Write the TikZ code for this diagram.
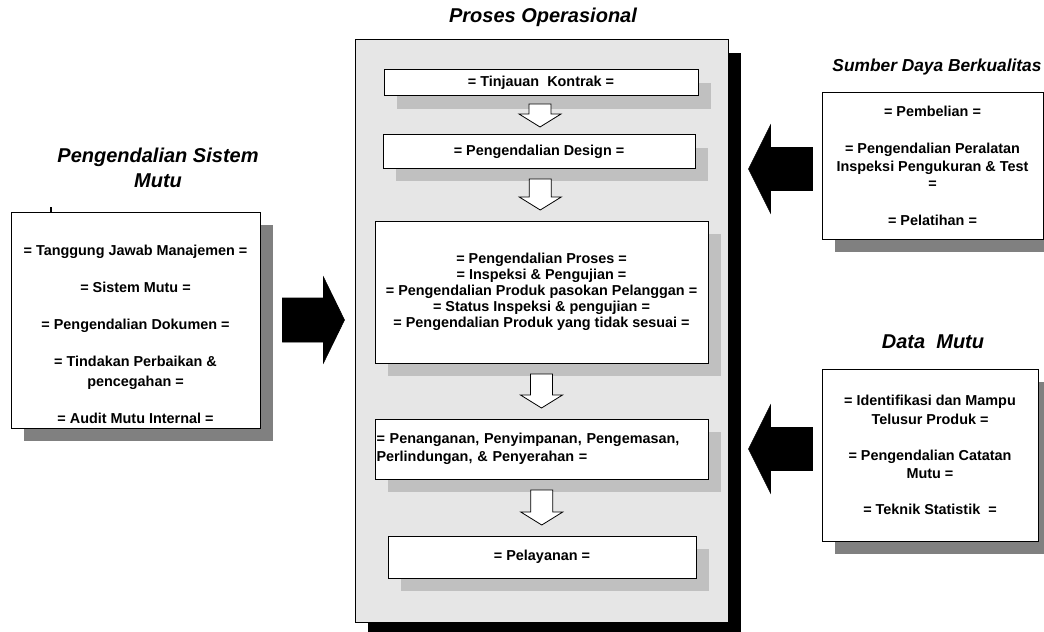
\documentclass[tikz,border=0pt]{standalone}
\usepackage{fontspec}
\setmainfont{Liberation Sans}
\usetikzlibrary{calc,shadows}

\definecolor{panelgray}{HTML}{E6E6E6}
\definecolor{lightshade}{HTML}{C0C0C0}
\definecolor{darkshade}{HTML}{808080}

% hollow arrow between two stacked boxes, #3 = half length
\newcommand\hollowarrow[3]{%
  \coordinate (ha) at ($(#1.south)!.5!(#2.north)$);
  \draw[hollow] (ha) ++(-11,-#3) -- ++(22,0) -- ++(0,2*#3-13) -- ++(10,0)
    -- ++(-21,13) -- ++(-21,-13) -- ++(10,0) -- cycle;}

\begin{document}
\begin{tikzpicture}[x=0.75pt,y=-0.75pt,
    box/.style={draw,fill=white,line width=0.75pt,inner sep=1pt,align=center,
                font=\bfseries\fontsize{10.8}{13.5}\selectfont},
    sidebox/.style={box,drop shadow={shadow xshift=9.75pt,shadow yshift=-9.75pt,fill=darkshade,opacity=1}},
    stepbox/.style={box,drop shadow={shadow xshift=9.75pt,shadow yshift=-9.75pt,fill=lightshade,opacity=1}},
    title/.style={align=center,font=\bfseries\itshape\fontsize{15}{18.75}\selectfont},
    blockarrow/.style={fill=black,draw=black},
    hollow/.style={draw=black,fill=white,line width=0.6pt}]
  \useasboundingbox (0,0) rectangle (1044,631);

  % left column
  \node[title] (lefttitle) at (158,167.5) {Pengendalian Sistem\\ Mutu};
  \node[sidebox, minimum width=186.75pt, minimum height=162pt] (lbox) at (135.5,320) {};
  \node[align=center, font=\bfseries\fontsize{10.8}{15}\selectfont] (lboxtext) at ($(lbox)+(0,14)$)
    {= Tanggung Jawab Manajemen =\\[12.75pt] = Sistem Mutu =\\[12.75pt] = Pengendalian Dokumen =\\[12.75pt]
     = Tindakan Perbaikan \&\\ pencegahan =\\[12.75pt] = Audit Mutu Internal =};
  \draw[line width=1pt] ($(lbox.north west)+(40.5,0)$) -- ++(0,-4.5);

  % middle column
  \node[title] (opstitle) at (543,17) {Proses Operasional};
  \node[draw, fill=panelgray, line width=0.75pt, minimum width=279.75pt, minimum height=436.5pt,
        drop shadow={shadow xshift=9.75pt,shadow yshift=-9.75pt,fill=black,opacity=1}] (ops) at (541.5,331) {};
  \node[stepbox, minimum width=235.5pt, minimum height=19.5pt] (tk) at (541,83) {= Tinjauan\ \ Kontrak =};
  \node[stepbox, minimum width=234pt, minimum height=24.75pt] (pd) at (539,151.5) {= Pengendalian Design =};
  \node[stepbox, minimum width=249.75pt, minimum height=106.5pt, font=\bfseries\fontsize{10.8}{12}\selectfont] (proc) at (541.5,292)
    {= Pengendalian Proses =\\ = Inspeksi \& Pengujian =\\ = Pengendalian Produk pasokan Pelanggan =\\
     = Status Inspeksi \& pengujian =\\ = Pengendalian Produk yang tidak sesuai =};
  \node[stepbox, minimum width=249.75pt, minimum height=45pt, align=left, text width=247.5pt] (pen) at (541.5,449)
    {= Penanganan, Penyimpanan, Pengemasan,\\ Perlindungan, \& Penyerahan =};
  \node[stepbox, minimum width=231pt, minimum height=31.5pt] (pel) at (542,557) {= Pelayanan =};

  \hollowarrow{tk}{pd}{11.5}
  \hollowarrow{pd}{proc}{15.5}
  \hollowarrow{proc}{pen}{17}
  \hollowarrow{pen}{pel}{17.5}

  % right column
  \node[title, font=\bfseries\itshape\fontsize{13}{16}\selectfont] (sdbtitle) at (937,67) {Sumber Daya Berkualitas};
  \node[sidebox, minimum width=165.75pt, minimum height=109.5pt, font=\bfseries\fontsize{10.8}{13.1}\selectfont] (sdb) at (932.5,166)
    {= Pembelian =\\[14.6pt] = Pengendalian Peralatan\\ Inspeksi Pengukuran \& Test\\ =\\[14.6pt] = Pelatihan =};
  \node[title] (dmtitle) at (933,342) {Data\ \ Mutu};
  \node[sidebox, minimum width=162pt, minimum height=129pt, font=\bfseries\fontsize{10.8}{13.9}\selectfont] (dm) at (930,455)
    {= Identifikasi dan Mampu\\ Telusur Produk =\\[13.1pt] = Pengendalian Catatan\\ Mutu =\\[13.1pt] = Teknik Statistik\ \ =};

  % big arrows
  \coordinate (la) at ($(lbox.east)+(22,0)$);
  \draw[blockarrow] (la) ++(0,-22) -- ++(41,0) -- ++(0,-21) -- ++(21,43) -- ++(-21,43) -- ++(0,-21) -- ++(-41,0) -- cycle;
  \coordinate (ra) at ($(sdb.west)+(-9,3)$);
  \draw[blockarrow] (ra) ++(0,-21.5) -- ++(-42,0) -- ++(0,-22.5) -- ++(-22,44) -- ++(22,44) -- ++(0,-22.5) -- ++(42,0) -- cycle;
  \coordinate (rb) at ($(dm.west)+(-9,-6)$);
  \draw[blockarrow] (rb) ++(0,-21.5) -- ++(-42,0) -- ++(0,-22.5) -- ++(-22,44) -- ++(22,44) -- ++(0,-22.5) -- ++(42,0) -- cycle;
\end{tikzpicture}
\end{document}
